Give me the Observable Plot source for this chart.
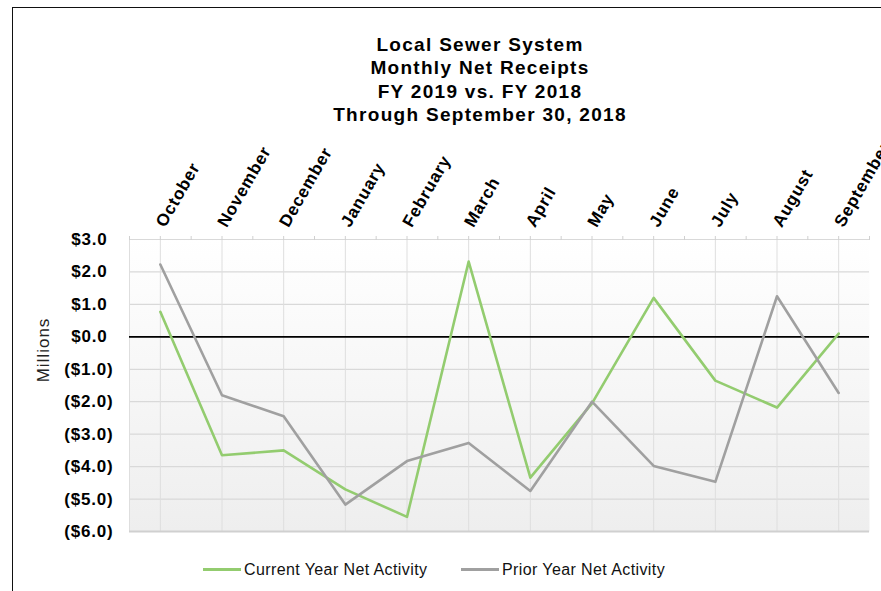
<!DOCTYPE html>
<html><head><meta charset="utf-8">
<script src="https://cdn.jsdelivr.net/npm/d3@7"></script>
<script src="https://cdn.jsdelivr.net/npm/@observablehq/plot@0.6"></script>
<style>
body{margin:0;background:#fff;font-family:"Liberation Sans",Arial,sans-serif;}
#wrap{position:relative;width:881px;height:591px;overflow:hidden;background:#fff;}
#wrap svg{position:absolute;left:0;top:0;}
.border{position:absolute;left:12px;top:7px;right:-5px;bottom:-5px;border-top:1.6px solid #111;border-left:1.6px solid #111;pointer-events:none;}
.title{position:absolute;left:230px;width:500px;top:33px;text-align:center;font-weight:bold;font-size:19px;letter-spacing:1.3px;line-height:23.4px;color:#000;}
.ylab{position:absolute;left:44px;top:350px;transform:translate(-50%,-50%) rotate(-90deg);font-size:17px;letter-spacing:1px;color:#222;white-space:nowrap;}
.legend{position:absolute;top:561px;font-size:16px;letter-spacing:0.4px;color:#111;display:flex;align-items:center;white-space:nowrap;}
.sw{display:inline-block;width:38px;height:3px;margin-right:3px;position:relative;top:-1px;}
</style></head><body>
<div id="wrap">
  <div class="title">Local Sewer System<br>Monthly Net Receipts<br>FY 2019 vs. FY 2018<br>Through September 30, 2018</div>
  <div class="ylab">Millions</div>
  <div class="legend" id="lg1" style="left:203px;"></div>
  <div class="legend" id="lg2" style="left:461px;"></div>
  <div class="border"></div>
</div>
<script>
const months = ["October","November","December","January","February","March","April","May","June","July","August","September"];
const currentYear = [0.77,-3.65,-3.5,-4.7,-5.55,2.32,-4.34,-2.05,1.2,-1.35,-2.18,0.1];
const priorYear = [2.23,-1.8,-2.45,-5.17,-3.83,-3.27,-4.75,-2.0,-3.98,-4.47,1.25,-1.73];
const yTicks = [3,2,1,0,-1,-2,-3,-4,-5,-6];
const seriesNames = ["Current Year Net Activity","Prior Year Net Activity"];
const seriesColors = ["#93cc6f","#a0a0a0"];

const idx = d3.range(months.length);
const halfTicks = d3.range(-0.5, months.length, 0.5);
const fmt = d => d < 0 ? `($${(-d).toFixed(1)})` : `$${d.toFixed(1)}`;
const labelStyle = {fontSize: 17, fontWeight: "bold", label: null};

const plot = Plot.plot({
  width: 881, height: 591,
  marginTop: 239, marginBottom: 60, marginLeft: 129, marginRight: 12,
  style: {fontFamily: "Liberation Sans, Arial, sans-serif", background: "transparent", overflow: "visible", color: "#000"},
  x: {domain: [-0.5, months.length - 0.5]},
  y: {domain: [-6, 3]},
  marks: [
    Plot.frame({fill: "url(#plotbg)", stroke: null}),
    Plot.gridY(yTicks, {stroke: "#d9d9d9", strokeOpacity: 1, strokeWidth: 1.2}),
    Plot.gridX(idx, {stroke: "#dedede", strokeOpacity: 1}),
    Plot.ruleX([-0.5], {stroke: "#dedede"}),
    Plot.ruleY([-6], {stroke: "#d0d0d0", strokeWidth: 2}),
    Plot.axisX(halfTicks, {anchor: "top", tickSize: 4, tickFormat: () => "", stroke: "#d0d0d0", label: null}),
    Plot.axisX(idx, {anchor: "top", tickSize: 0, tickPadding: 14, tickRotate: -60, tickFormat: i => months[i], ...labelStyle}),
    Plot.axisY(yTicks.filter(d => d >= 0), {tickSize: 0, tickPadding: 22, tickFormat: fmt, ...labelStyle}),
    Plot.axisY(yTicks.filter(d => d < 0), {tickSize: 0, tickPadding: 16, tickFormat: fmt, ...labelStyle}),
    Plot.ruleY([0], {stroke: "#000", strokeWidth: 1.6}),
    Plot.lineY(currentYear, {x: (d, i) => i, y: d => d, stroke: seriesColors[0], strokeWidth: 2.6}),
    Plot.lineY(priorYear, {x: (d, i) => i, y: d => d, stroke: seriesColors[1], strokeWidth: 2.6})
  ]
});
const ns = "http://www.w3.org/2000/svg";
const defs = document.createElementNS(ns, "defs");
defs.innerHTML = '<linearGradient id="plotbg" x1="0" y1="0" x2="0" y2="1"><stop offset="0" stop-color="#ffffff"/><stop offset="1" stop-color="#eeeeee"/></linearGradient>';
plot.insertBefore(defs, plot.firstChild);
plot.querySelectorAll("g[aria-label='x-axis tick label'] text, g[aria-label='y-axis tick label'] text").forEach(t => t.style.letterSpacing = "0.8px");
const wrap = document.getElementById("wrap");
wrap.insertBefore(plot, wrap.firstChild);

["lg1","lg2"].forEach((id, k) => {
  const el = document.getElementById(id);
  const sw = document.createElement("span");
  sw.className = "sw"; sw.style.background = seriesColors[k];
  el.appendChild(sw);
  el.appendChild(document.createTextNode(seriesNames[k]));
});
</script>
</body></html>
